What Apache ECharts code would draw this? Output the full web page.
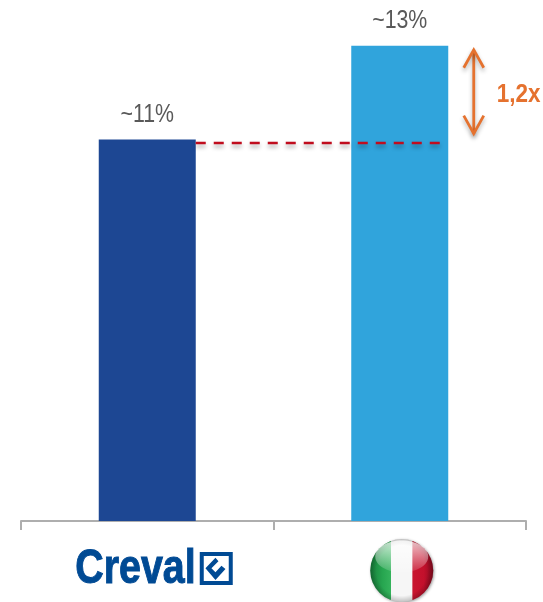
<!DOCTYPE html>
<html>
<head>
<meta charset="utf-8">
<style>html,body{margin:0;padding:0;background:#fff}#main{width:543px;height:602px}</style>
<script src="https://cdn.jsdelivr.net/npm/echarts@6/dist/echarts.min.js"></script>
</head>
<body>
<div id="main"></div>
<script>
// Share values for the bank and for the national system
const categories = ['Creval', 'Italia'];
const shareValues = [10.6, 13.2];
const barColors = ['#1d4793', '#30a4dc'];
const referenceLevel = 10.5;   // dashed guide
const multipleLabel = '1,2x';
const arrowSpan = [10.76, 13.09];

const SANS = '"Liberation Sans",Arial,sans-serif';
const ORANGE = '#e5722f';
const BRAND = '#004a94';

const chart = echarts.init(document.getElementById('main'), null, {renderer: 'canvas'});

chart.setOption({
  animation: false,
  backgroundColor: '#ffffff',
  grid: {left: 21, right: 17, top: 17, height: 504, containLabel: false},
  xAxis: {
    type: 'category',
    data: categories,
    axisLine: {lineStyle: {color: '#aeaeae', width: 2}},
    axisTick: {show: true, length: 9, lineStyle: {color: '#aeaeae', width: 2}},
    axisLabel: {show: false}
  },
  yAxis: {type: 'value', min: 0, max: 14, show: false},
  series: [{
    type: 'bar',
    barWidth: 97,
    data: shareValues.map((v, i) => ({value: v, itemStyle: {color: barColors[i]}}))
  }, {
    // Value captions: horizontally condensed text above each bar
    type: 'custom',
    data: shareValues.map((v, i) => [i, v]),
    encode: {x: 0, y: 1},
    z: 5,
    renderItem: (params, api) => {
      const p = api.coord([api.value(0), api.value(1)]);
      return {
        type: 'text', x: p[0], y: p[1] - 12, scaleX: 0.82,
        style: {
          text: '~' + Math.round(api.value(1)) + '%',
          font: '26px ' + SANS, fill: '#595959',
          textAlign: 'center', textVerticalAlign: 'bottom'
        }
      };
    }
  }]
});

// Annotations placed through the chart's own scales
const px = (cat, val) => chart.convertToPixel({xAxisIndex: 0, yAxisIndex: 0}, [cat, val]);
const yOf = (val) => px(0, val)[1];
const barLeftEdge = px(0, 0)[0] + 48.5;
const barRightEdge = px(1, 0)[0] + 48.5;
const arrowX = barRightEdge + 25.5;
const arrowTop = yOf(arrowSpan[1]);
const arrowBottom = yOf(arrowSpan[0]);
const arrowShadow = {shadowColor: 'rgba(0,0,0,0.3)', shadowBlur: 4, shadowOffsetY: 3};
const wordX = px(0, 0)[0] - 72;
const logoX = px(0, 0)[0] + 52.5;
const logoY = 552;
const flagX = px(1, 0)[0] + 2;
const flagY = 570.5;
const flagR = 31.5;
const tick = [[15.7, 5.7], [5.7, 16.3], [15.7, 28], [25.7, 17], [21.7, 13.7], [15.7, 20.3], [11.7, 16.3], [18.7, 9.3]];

chart.setOption({
  graphic: [
    // Dashed guide from the first bar to the second
    {type: 'line', z: 10,
      shape: {x1: barLeftEdge, y1: yOf(referenceLevel), x2: barRightEdge - 8, y2: yOf(referenceLevel)},
      style: {stroke: '#c00d1e', lineWidth: 2.4, lineDash: [10, 8],
        shadowColor: 'rgba(0,0,0,0.35)', shadowBlur: 4, shadowOffsetY: 3}},
    // Double-headed arrow
    {type: 'line', z: 10,
      shape: {x1: arrowX, y1: arrowTop, x2: arrowX, y2: arrowBottom},
      style: {stroke: ORANGE, lineWidth: 2.8, ...arrowShadow}},
    {type: 'polyline', z: 10,
      shape: {points: [[arrowX - 10, arrowTop + 18], [arrowX, arrowTop], [arrowX + 10, arrowTop + 18]]},
      style: {stroke: ORANGE, lineWidth: 2.8, fill: null, ...arrowShadow}},
    {type: 'polyline', z: 10,
      shape: {points: [[arrowX - 10, arrowBottom - 18], [arrowX, arrowBottom], [arrowX + 10, arrowBottom - 18]]},
      style: {stroke: ORANGE, lineWidth: 2.8, fill: null, ...arrowShadow}},
    {type: 'text', z: 10, x: arrowX + 23, y: 95, scaleX: 0.9,
      style: {text: multipleLabel, fill: ORANGE, font: 'bold 25px ' + SANS,
        textAlign: 'left', textVerticalAlign: 'middle'}},
    // Bank logo: wordmark and square check mark
    {type: 'text', z: 10, x: wordX, y: 570, scaleX: 0.82,
      style: {text: categories[0], fill: BRAND, stroke: BRAND, lineWidth: 1, font: 'bold 48px ' + SANS,
        textAlign: 'left', textVerticalAlign: 'middle'}},
    {type: 'rect', z: 10,
      shape: {x: logoX + 2, y: logoY + 2, width: 29, height: 29},
      style: {stroke: BRAND, lineWidth: 4, fill: '#fff'}},
    {type: 'polygon', z: 11,
      shape: {points: tick.map(([a, b]) => [logoX + a, logoY + b])},
      style: {fill: BRAND}},
    // Italian flag rendered as a glossy sphere
    {type: 'circle', z: 10,
      shape: {cx: flagX, cy: flagY, r: flagR},
      style: {
        fill: new echarts.graphic.LinearGradient(0, 0, 1, 0, [
          {offset: 0, color: '#17803c'}, {offset: 0.2, color: '#27a650'},
          {offset: 0.33, color: '#35b35c'}, {offset: 0.331, color: '#f6f6f6'},
          {offset: 0.67, color: '#f6f6f6'}, {offset: 0.671, color: '#c9152f'},
          {offset: 0.85, color: '#c3102c'}, {offset: 1, color: '#8e0a20'}
        ]),
        shadowColor: 'rgba(0,0,0,0.4)', shadowBlur: 3, shadowOffsetX: 1, shadowOffsetY: 1
      }},
    {type: 'circle', z: 11,
      shape: {cx: flagX, cy: flagY, r: flagR},
      style: {
        fill: new echarts.graphic.RadialGradient(0.5, 0.5, 0.5, [
          {offset: 0, color: 'rgba(255,255,255,0)'}, {offset: 0.8, color: 'rgba(0,0,0,0)'},
          {offset: 1, color: 'rgba(0,0,0,0.22)'}
        ])
      }},
    {type: 'ellipse', z: 12,
      shape: {cx: flagX, cy: flagY - 14, rx: flagR - 5, ry: 16},
      style: {
        fill: new echarts.graphic.LinearGradient(0, 0, 0, 1, [
          {offset: 0, color: 'rgba(255,255,255,0.75)'}, {offset: 1, color: 'rgba(255,255,255,0.1)'}
        ])
      }}
  ]
});
</script>
</body>
</html>
